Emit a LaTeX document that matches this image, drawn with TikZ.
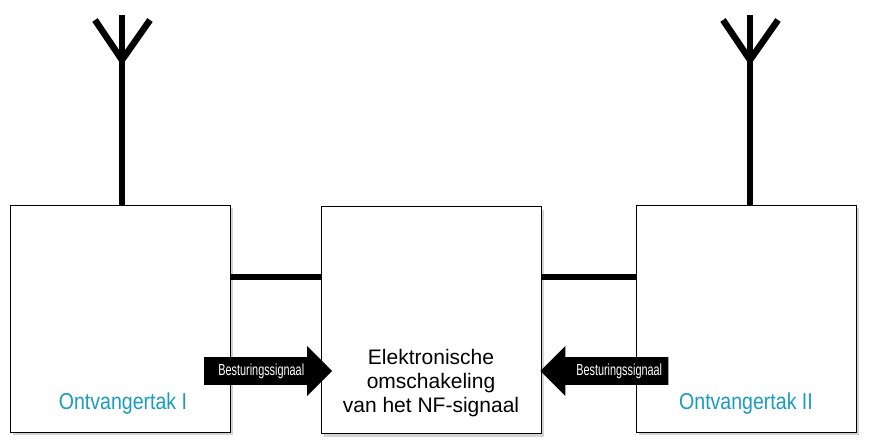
\documentclass[tikz,border=0pt]{standalone}
\usepackage{fontspec}
\setmainfont{Liberation Sans}
\usetikzlibrary{shapes.arrows,shadows,positioning}
\definecolor{tak}{HTML}{1A9CC0}
\tikzset{
  blok/.style={draw,thin,fill=white,minimum width=220pt,minimum height=227pt,
    drop shadow={shadow xshift=3pt,shadow yshift=-3pt,opacity=0.35}},
  staaf/.style={line width=6.5pt},
  signaal/.style={single arrow,fill=black,text=white,inner xsep=2pt,inner ysep=6pt,
    minimum width=50pt,single arrow head extend=11pt,single arrow tip angle=90,
    minimum height=128pt,font=\fontsize{16}{17}\selectfont},
}
\newcommand{\smal}[1]{\scalebox{0.68}[1]{#1}}
\begin{document}
\begin{tikzpicture}[x=1pt,y=-1pt]
\useasboundingbox (0,0) rectangle (874,442);
% blokken
\node[blok] (links) at (120,318.5) {};
\node[blok] (midden) at (431,320) {};
\node[blok] (rechts) at (746,318.5) {};
\node[text=tak,font=\fontsize{23}{25}\selectfont] (tak1) at (123,404) {\scalebox{0.85}[1]{Ontvangertak I}};
\node[text=tak,font=\fontsize{23}{25}\selectfont] (tak2) at (746,404) {\scalebox{0.85}[1]{Ontvangertak II}};
\node[align=center,font=\fontsize{21}{24}\selectfont] (omsch) at (431,383) {Elektronische\\omschakeling\\van het NF-signaal};
% antennes
\foreach \n/\x in {a/122,b/750}{
  \coordinate (\n voet) at (\x,205);
  \coordinate (\n top) at (\x,15);
  \coordinate (\n knik) at (\x,60);
  \coordinate (\n l) at (\x-27,20);
  \coordinate (\n r) at (\x+28,20);
  \draw[staaf] (\n voet) -- (\n top);
  \draw[staaf] (\n l) -- (\n knik) -- (\n r);
}
% verbindingen
\draw[staaf] (links.east |- 0,277) -- (midden.west |- 0,277);
\draw[staaf] (midden.east |- 0,277) -- (rechts.west |- 0,277);
% besturing
\node[signaal,anchor=west] (sig1) at (204,371) {\smal{Besturingssignaal}\hspace{16pt}};
\node[signaal,anchor=west,shape border rotate=180] (sig2) at (540,371) {\hspace{16pt}\smal{Besturingssignaal}};
\end{tikzpicture}
\end{document}
